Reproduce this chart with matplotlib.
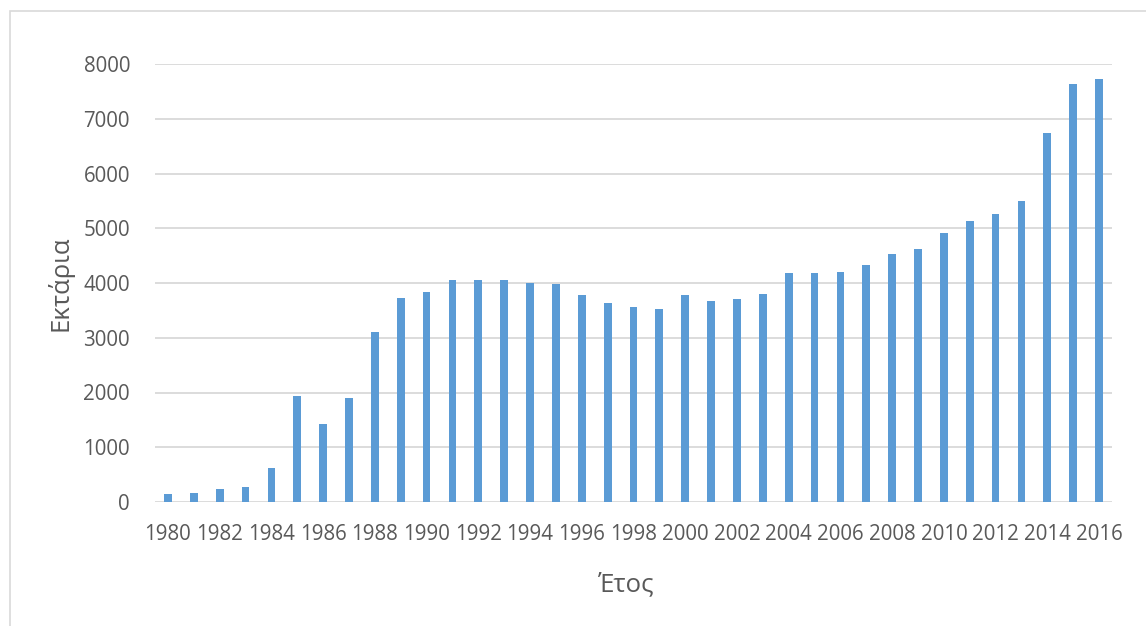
import matplotlib
matplotlib.use("Agg")
import matplotlib.pyplot as plt
from matplotlib.patches import Rectangle

years = list(range(1980, 2017))
hectares = [140, 172, 245, 274, 616, 1945, 1420, 1896, 3099, 3720,
            3830, 4055, 4060, 4050, 4005, 3980, 3785, 3635, 3560, 3520,
            3785, 3680, 3705, 3790, 4180, 4175, 4195, 4330, 4530, 4620,
            4915, 5135, 5255, 5505, 6740, 7640, 7720]
yticks = [0, 1000, 2000, 3000, 4000, 5000, 6000, 7000, 8000]
xlabel = "Έτος"
ylabel = "Εκτάρια"

plt.rcParams['font.family'] = ['Open Sans', 'DejaVu Sans']
text_color = '#595959'
bar_color = '#5B9BD5'
grid_color = '#D9D9D9'

W, H = 1146, 626
fig = plt.figure(figsize=(W / 100, H / 100), dpi=100)
fig.patch.set_facecolor('white')

# outer chart frame
fig.patches.append(Rectangle((10 / W, -0.2), 2, (H - 11) / H + 0.2,
                             transform=fig.transFigure, fill=False,
                             edgecolor=grid_color, linewidth=1.2))

ax = fig.add_axes([155 / W, (H - 502) / H, (1112 - 155) / W, (502 - 64) / H])
x = list(range(len(years)))
ax.bar(x, hectares, width=0.3, color=bar_color, zorder=3)
ax.set_xlim(-0.5, len(years) - 0.5)
ax.set_ylim(0, 8000)
ax.set_yticks(yticks)
ax.set_yticklabels([str(v) for v in yticks])
even = [i for i, y in enumerate(years) if y % 2 == 0]
ax.set_xticks(even)
ax.set_xticklabels([str(years[i]) for i in even])
ax.tick_params(axis='both', length=0, labelsize=14.8, colors=text_color)
ax.tick_params(axis='y', pad=18)
ax.tick_params(axis='x', pad=16)
for s in ax.spines.values():
    s.set_visible(False)
ax.grid(axis='y', color=grid_color, linewidth=1.3, zorder=0)
ax.set_axisbelow(True)

fig.text(626 / W, 1 - 585 / H, xlabel, ha='center', va='center',
         fontsize=18.5, color=text_color)
fig.text(60 / W, 1 - 283 / H, ylabel, ha='center', va='center',
         rotation=90, fontsize=18.5, color=text_color)

fig.savefig('out.png', dpi=100, facecolor='white')
